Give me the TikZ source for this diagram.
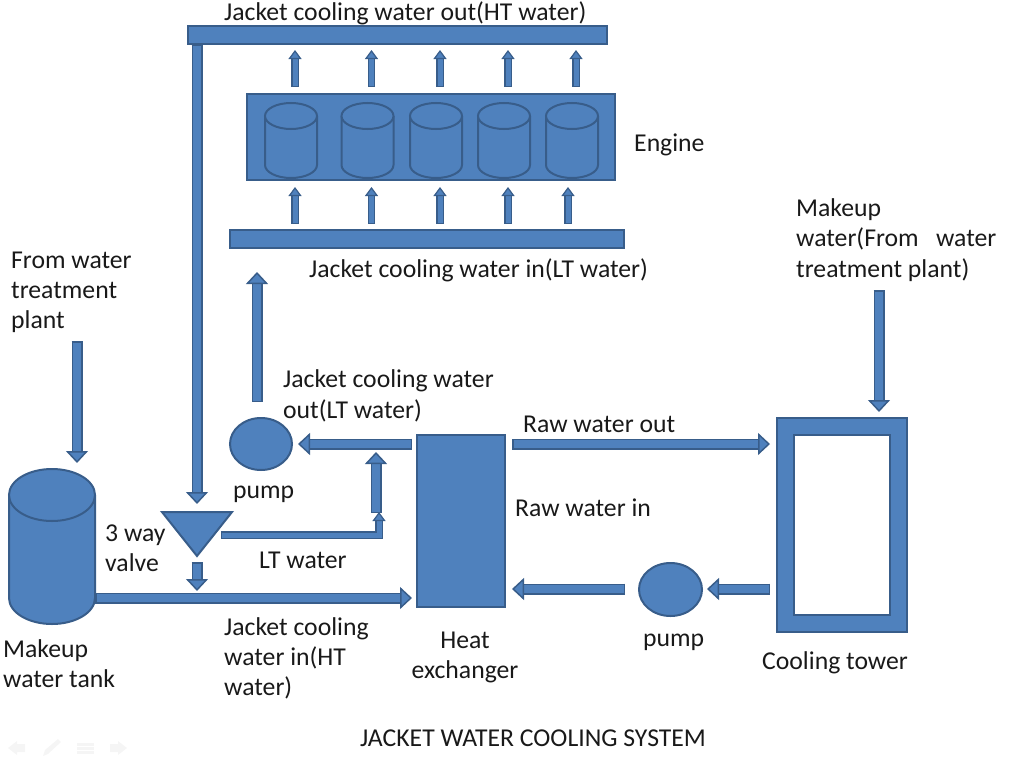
\documentclass[tikz,border=0pt]{standalone}
\usepackage{fontspec}
\setmainfont{Carlito}
\usepackage{xcolor}
\usepackage{tikz}
\usetikzlibrary{arrows.meta, shapes.geometric}

\definecolor{pipeblue}{HTML}{4F81BD}
\definecolor{pipeline}{HTML}{385D8A}

\tikzset{
lbl/.style={font=\fontsize{25.7}{30.3}\selectfont, align=left, inner sep=0, anchor=west, text=black!90, yshift=-1.5},
block/.style={draw=pipeline, fill=pipeblue, line width=2, inner sep=0},
pipe/.style={draw=pipeline, double=pipeblue, double distance=8, line width=1.5,
  {Bar[width=11, line width=1.5, color=pipeline]}-{Triangle[length=12, width=22, line width=1.5, fill=pipeblue, color=pipeline]}},
riser/.style={draw=pipeline, double=pipeblue, double distance=5, line width=1.2,
  {Bar[width=7.4, line width=1.2, color=pipeline]}-{Triangle[length=9, width=13, line width=1.2, fill=pipeblue, color=pipeline]}},
faint/.style={fill=black!4, draw=none}
}

\begin{document}
\begin{tikzpicture}[x=1pt, y=-1pt]
\useasboundingbox (0,0) rectangle (1024,768);

\begin{scope}
\node[block, minimum width=419, minimum height=18] (topbar) at (397.5,35) {};
\node[block, minimum width=368, minimum height=86] (engine) at (431,137) {};
\node[block, minimum width=394, minimum height=18] (lowbar) at (427,239) {};

\foreach \i/\x in {1/291,2/367.5,3/436,4/504,5/572}{
\draw[block] ({\x-26},116)--({\x-26},165) arc (180:0:26 and 13)--({\x+26},116);
\draw[block] (\x,116) ellipse (26 and 13);
}

\foreach \i/\x/\xx in {1/295/295,2/371.5/371.5,3/440/440,4/508/508,5/576/568}{
\coordinate (upfrom\i) at (\x,87);
\coordinate (upto\i) at (\x,50);
\coordinate (infrom\i) at (\xx,224);
\coordinate (into\i) at (\xx,187);
\draw[riser] (upfrom\i)--(upto\i);
\draw[riser] (infrom\i)--(into\i);
}
\end{scope}

\begin{scope}
\draw[block] (9,495)--(9,598) arc (180:0:43 and 26)--(95,495);
\draw[block] (52,495) ellipse (43 and 26);
\coordinate (tank) at (95,598);

\draw[block] (162,512)--(232,512)--(197,556)--cycle;
\coordinate (valvein) at (197,504);
\coordinate (valveout) at (197,562);
\coordinate (valvedown) at (197,591);
\coordinate (valveside) at (221,535);
\coordinate (ltcorner) at (379,535);
\coordinate (ltend) at (379,512);
\coordinate (ltfrom) at (376,513);
\coordinate (ltto) at (376,452);

\node[block, ellipse, minimum width=62, minimum height=52] (pumpa) at (261,444) {};
\node[block, ellipse, minimum width=63, minimum height=53] (pumpb) at (670.5,589.5) {};
\node[block, minimum width=88, minimum height=172] (exchanger) at (461,521) {};
\node[block, minimum width=130, minimum height=214] (tower) at (842,525) {};
\node[draw=pipeline, fill=white, line width=2, inner sep=0, minimum width=96, minimum height=180] (towerin) at (842,525) {};

\coordinate (lowbarin) at (257,272);
\coordinate (pumpaup) at (257,402);
\coordinate (hxleft) at (412,444);
\coordinate (pumpain) at (298,444);
\coordinate (hxin) at (412,598);
\coordinate (hxrawout) at (512,444);
\coordinate (towerrawin) at (770,444);
\coordinate (pumpbleft) at (625,589);
\coordinate (hxrawin) at (512,589);
\coordinate (towerout) at (770,589);
\coordinate (pumpbin) at (707,589);
\coordinate (makeupa) at (77,341);
\coordinate (tanktop) at (77,463);
\coordinate (makeupb) at (879,290);
\coordinate (towertop) at (879,412);
\end{scope}

\draw[pipe] (topbar.south -| valvein)--(valvein);
\draw[pipe] (valveout)--(valvedown);
\draw[pipe] (tank)--(hxin);
\draw[pipe] (ltfrom)--(ltto);
\draw[riser] (valveside)--(ltcorner)--(ltend);
\draw[pipe] (hxleft)--(pumpain);
\draw[pipe] (pumpaup)--(lowbarin);
\draw[pipe] (hxrawout)--(towerrawin);
\draw[pipe] (pumpbleft)--(hxrawin);
\draw[pipe] (towerout)--(pumpbin);
\draw[pipe] (makeupa)--(tanktop);
\draw[pipe] (makeupb)--(towertop);

\node[lbl] (htout) at (224,12) {Jacket cooling water out(HT water)};
\node[lbl] (enginelbl) at (634,143) {Engine};
\node[lbl] (ltin) at (309,269) {Jacket cooling water in(LT water)};
\node[lbl] (fromplant) at (11,291) {From water\\treatment\\plant};
\node[lbl] (towermakeup) at (796,238.5) {Makeup\\water(From\ \ \ water\\treatment plant)};
\node[lbl] (ltout) at (283,394.5) {Jacket cooling water\\out(LT water)};
\node[lbl] (pumpalbl) at (233,493) {pump};
\node[lbl] (rawout) at (523,423) {Raw water out};
\node[lbl] (rawin) at (515,506) {Raw water in};
\node[lbl] (valvelbl) at (105,547) {3 way\\valve};
\node[lbl] (ltwater) at (259,559) {LT water};
\node[lbl] (htin) at (224,657) {Jacket cooling\\water in(HT\\water)};
\node[lbl, align=center, anchor=center] (hxlbl) at (465,656) {Heat\\exchanger};
\node[lbl] (pumpblbl) at (643,641) {pump};
\node[lbl] (towerlbl) at (762,661) {Cooling tower};
\node[lbl] (tanklbl) at (3,662) {Makeup\\water tank};
\node[lbl] (title) at (360,737) {JACKET WATER COOLING SYSTEM};

\begin{scope}
\fill[faint] (8,748)--(17,741)--(17,744)--(25,744)--(25,752)--(17,752)--(17,755)--cycle;
\fill[faint] (43,756)--(45,750)--(58,739)--(61,742)--(48,754)--cycle;
\foreach \y in {743,747,751}{
\fill[faint] (77,\y) rectangle (94,{\y+3});
}
\fill[faint] (127,748)--(118,741)--(118,744)--(110,744)--(110,752)--(118,752)--(118,755)--cycle;
\end{scope}

\end{tikzpicture}
\end{document}
